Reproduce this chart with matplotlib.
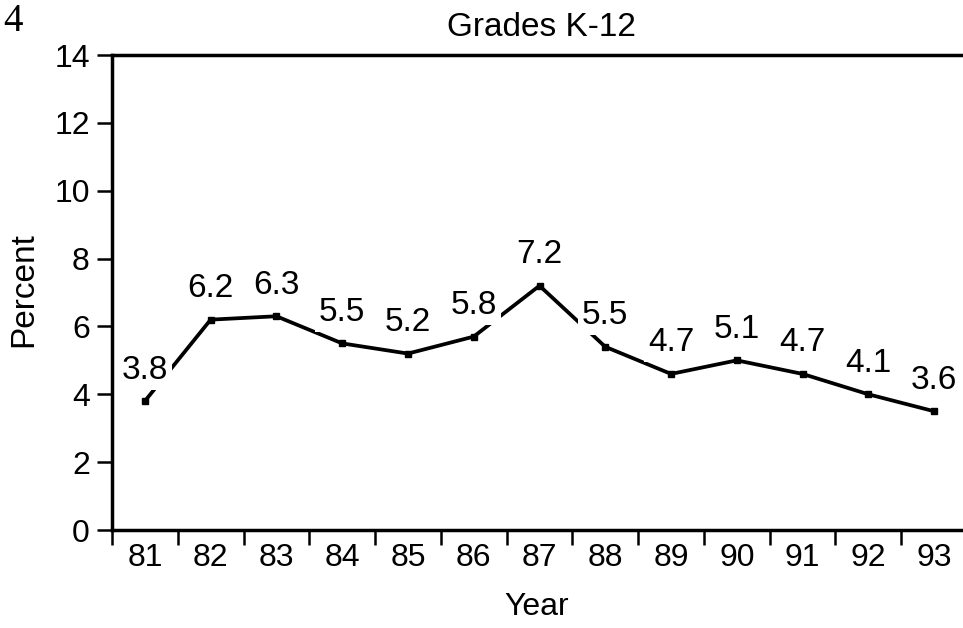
import numpy as np
import matplotlib
matplotlib.use("Agg")
import matplotlib.pyplot as plt

# data
years = [81, 82, 83, 84, 85, 86, 87, 88, 89, 90, 91, 92, 93]
point_values = [3.8, 6.2, 6.3, 5.5, 5.2, 5.7, 7.2, 5.4, 4.6, 5.0, 4.6, 4.0, 3.5]
value_labels = ["3.8", "6.2", "6.3", "5.5", "5.2", "5.8", "7.2", "5.5", "4.7", "5.1", "4.7", "4.1", "3.6"]
y_ticks = [0, 2, 4, 6, 8, 10, 12, 14]

plt.rcParams['font.family'] = ['Liberation Sans', 'DejaVu Sans']

fig = plt.figure(figsize=(9.63, 6.28), dpi=100)
ax = fig.add_axes([112 / 963, 1 - 530 / 628, 855 / 963, 475 / 628])

ax.plot(years, point_values, color='black', lw=2.7, marker='s', ms=4.5,
        zorder=2, solid_joinstyle='miter')

# labels with white boxes, they cut the line like in the scan
for x, v, lab in zip(years, point_values, value_labels):
    ax.annotate(lab, (x, v), xytext=(0, 31), textcoords='offset pixels',
                ha='center', va='center', fontsize=24, zorder=3,
                bbox=dict(boxstyle='square,pad=0.12', fc='white', ec='none'))

ax.set_xlim(80.5, 93.5)
ax.set_ylim(0, 14)

# ticks sit between the years, year labels in the middle
ax.set_xticks(np.arange(80.5, 93.0, 1.0))
ax.set_xticklabels([])
ax.set_xticks(years, minor=True)
ax.set_xticklabels([str(y) for y in years], minor=True, fontsize=23)
ax.tick_params(axis='x', which='major', direction='out', length=11, width=1.8)
ax.tick_params(axis='x', which='minor', length=0, pad=9)

ax.set_yticks(y_ticks)
ax.set_yticklabels([str(t) for t in y_ticks], fontsize=23)
ax.tick_params(axis='y', direction='out', length=11, width=1.8, pad=5)

for side in ['left', 'bottom', 'top']:
    ax.spines[side].set_linewidth(2.5)
ax.spines['right'].set_visible(False)

fig.text(541 / 963, 1 - 27 / 628, "Grades K-12", ha='center', va='center', fontsize=24)
fig.text(537 / 963, 1 - 607 / 628, "Year", ha='center', va='center', fontsize=23)
fig.text(24 / 963, 1 - 290 / 628, "Percent", ha='center', va='center',
         rotation=90, fontsize=24)
fig.text(3 / 963, 1 - 3 / 628, "4", ha='left', va='top', fontsize=28,
         family='Liberation Serif')

fig.savefig("out.png", dpi=100)
